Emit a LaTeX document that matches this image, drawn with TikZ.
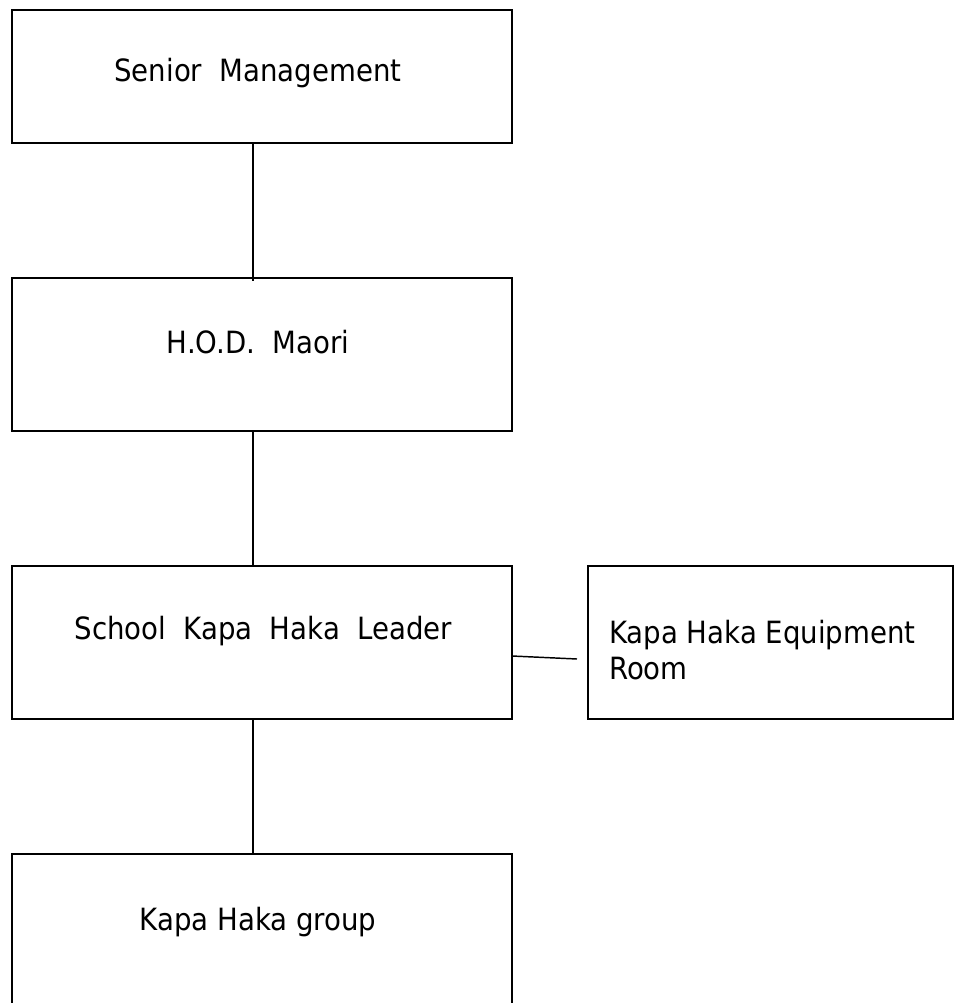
\documentclass[tikz,border=0pt]{standalone}
\usepackage{fontspec}
\setmainfont{DejaVu Sans Condensed}
\begin{document}
\begin{tikzpicture}[x=0.75pt,y=-0.75pt,
  box/.style={draw,line width=1.5pt,inner sep=0pt,outer sep=0pt,
    minimum width=375pt,minimum height=114.75pt},
  lbl/.style={font=\fontsize{23}{27}\selectfont,inner sep=0pt},
  link/.style={line width=1.1pt}]
\clip (0,0) rectangle (961,1003);
% boxes
\node[box,minimum height=99.75pt] (sm) at (262,76.5) {};
\node[box] (hod) at (262,354.5) {};
\node[box] (lead) at (262,642) {};
\node[box,minimum width=273.75pt] (equip) at (770.5,642) {};
\node[box] (grp) at (262,930.5) {};
% texts
\node[lbl,anchor=base] (smt) at ([xshift=-3pt,yshift=-4pt]sm.center) {Senior\ \ Management};
\node[lbl,anchor=base] (hodt) at ([xshift=-3pt,yshift=1pt]hod.center) {H.O.D.\ \ Maori};
\node[lbl,anchor=base] (leadt) at ([xshift=1pt,yshift=2.25pt]lead.center) {School\ \ Kapa\ \ Haka\ \ Leader};
\node[lbl,anchor=west,align=left] (equipt) at ([xshift=15.75pt,yshift=-6pt]equip.west) {Kapa Haka Equipment\\Room};
\node[lbl,anchor=base] (grpt) at ([xshift=-3pt]grp.center) {Kapa Haka group};
% links
\draw[link] ([xshift=-6.75pt]sm.south) -- ([xshift=-6.75pt,yshift=-2pt]hod.north);
\draw[link] ([xshift=-6.75pt]hod.south) -- ([xshift=-6.75pt]lead.north);
\draw[link] ([xshift=-6.75pt]lead.south) -- ([xshift=-6.75pt,yshift=-1pt]grp.north);
\draw[link] ([yshift=-10.5pt]lead.east) -- ([xshift=-8.25pt,yshift=-12.75pt]equip.west);
\end{tikzpicture}
\end{document}
